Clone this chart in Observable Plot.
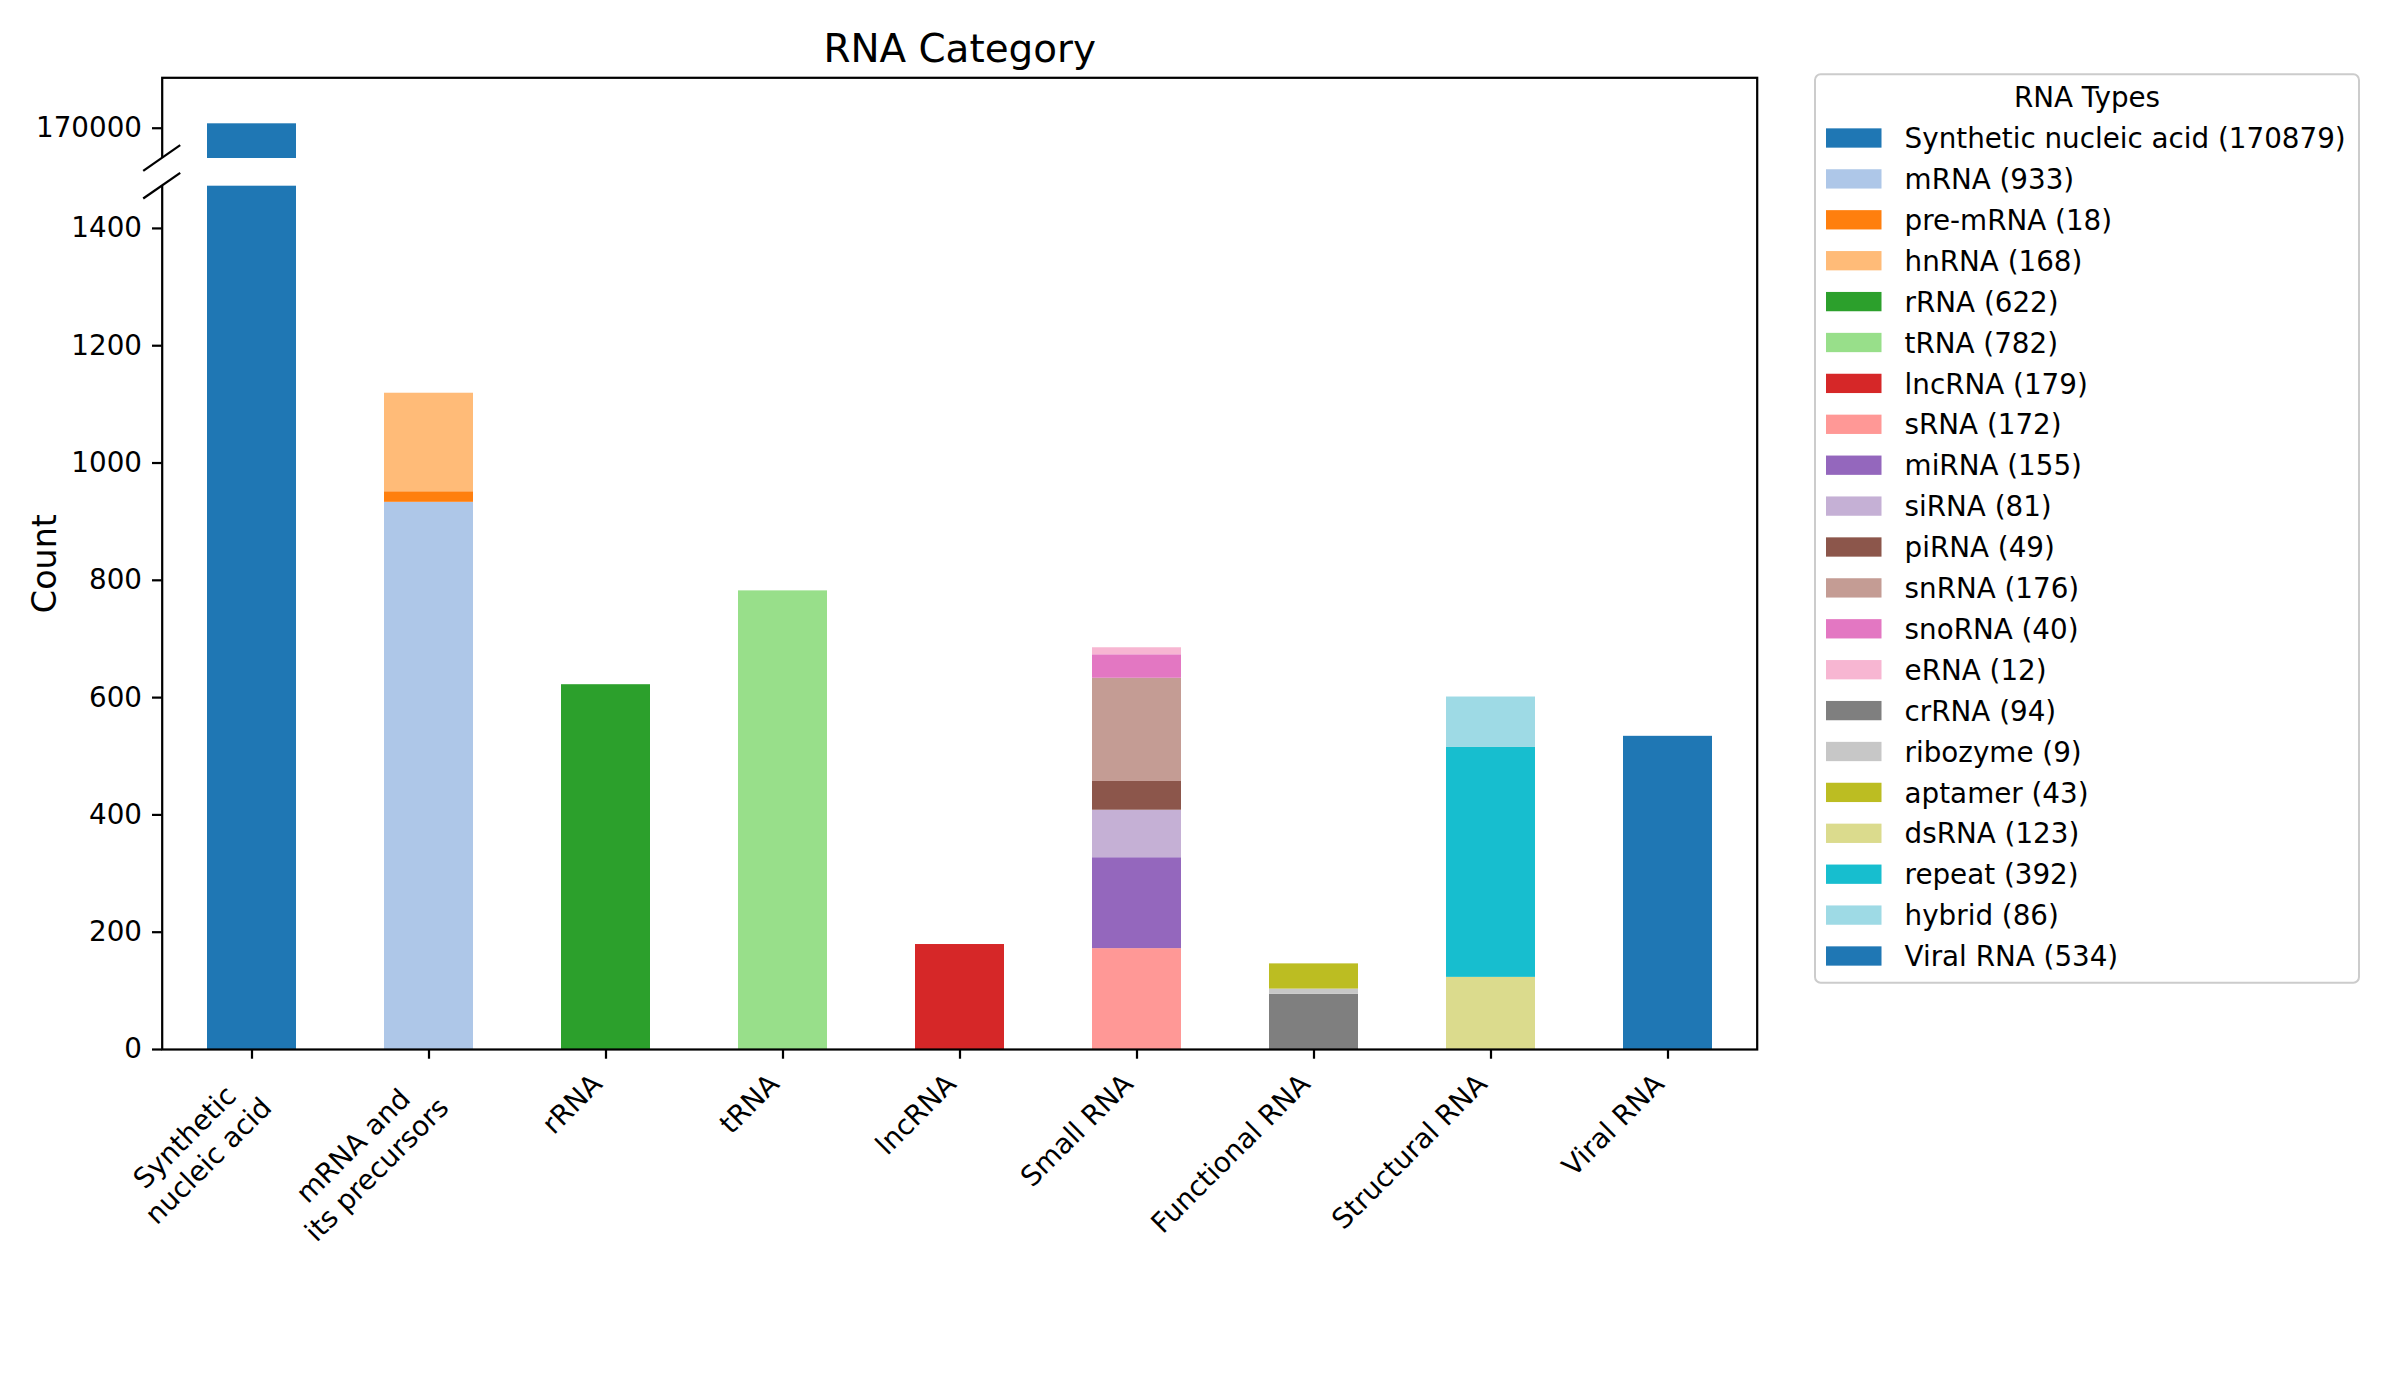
<!DOCTYPE html>
<html><head><meta charset="utf-8">
<script src="https://cdn.jsdelivr.net/npm/d3@7"></script>
<script src="https://cdn.jsdelivr.net/npm/@observablehq/plot@0.6"></script>
<style>
html,body{margin:0;padding:0;background:#fff;}
#chart{position:relative;width:2400px;height:1400px;}
</style></head>
<body><div id="chart"></div>
<script>
// ---- data ----
const categories = ["Synthetic\nnucleic acid", "mRNA and\nits precursors", "rRNA", "tRNA", "lncRNA",
  "Small RNA", "Functional RNA", "Structural RNA", "Viral RNA"];
const typeNames = ["Synthetic nucleic acid", "mRNA", "pre-mRNA", "hnRNA", "rRNA", "tRNA", "lncRNA",
  "sRNA", "miRNA", "siRNA", "piRNA", "snRNA", "snoRNA", "eRNA", "crRNA", "ribozyme", "aptamer",
  "dsRNA", "repeat", "hybrid", "Viral RNA"];
const typeCounts = [170879, 933, 18, 168, 622, 782, 179, 172, 155, 81, 49, 176, 40, 12, 94, 9, 43, 123, 392, 86, 534];
const typeCategory = [0, 1, 1, 1, 2, 3, 4, 5, 5, 5, 5, 5, 5, 5, 6, 6, 6, 7, 7, 7, 8];
const typeColors = ["#1f77b4", "#aec7e8", "#ff7f0e", "#ffbb78", "#2ca02c", "#98df8a", "#d62728",
  "#ff9896", "#9467bd", "#c5b0d5", "#8c564b", "#c49c94", "#e377c2", "#f7b6d2", "#7f7f7f",
  "#c7c7c7", "#bcbd22", "#dbdb8d", "#17becf", "#9edae5", "#1f77b4"];
const yLowerDomain = [0, 1472];
const yUpperDomain = [164000, 180000];
const yTicks = [0, 200, 400, 600, 800, 1000, 1200, 1400, 170000];

const rows = typeNames.map((t, i) => ({type: t, category: categories[typeCategory[i]], value: typeCounts[i]}));

// ---- layout ----
const W = 2400, H = 1400;
const mL = 161.7, mR = W - 1756.7, mT = 77.3, mB = H - 1049;
const lowerTop = 185.7, upperBottom = 158;
const fs = 10 * 200 / 72;       // 10pt @200dpi
const fsTitle = 14 * 200 / 72;
const fsLabel = 12 * 200 / 72;
const lw = 0.8 * 200 / 72;
const tickLen = 3.5 * 200 / 72;
const frameW = W - mL - mR;

// measure text for rotated x labels (matplotlib-like alignment)
const ctx = document.createElement("canvas").getContext("2d");
ctx.font = `${fs}px "DejaVu Sans"`;
const labelMarks = categories.map((c) => {
  const lines = c.split("\n");
  const w = Math.max(...lines.map((l) => ctx.measureText(l).width));
  const h = 0.97 * fs;
  const s = Math.SQRT1_2;
  const dx = -s * h - s * w / 2;
  const dy = 2 * tickLen + s * w / 2;
  return Plot.text([c], {x: (d) => d, text: (d) => d, frameAnchor: "bottom", rotate: -45,
    textAnchor: "middle", lineAnchor: "top", lineHeight: 1.2, dx, dy, fontSize: fs, fill: "black"});
});

const plot = Plot.plot({
  width: W, height: H,
  marginLeft: mL, marginRight: mR, marginTop: mT, marginBottom: mB,
  style: {fontFamily: "DejaVu Sans", fontSize: fs + "px", color: "black", background: "white", maxWidth: "none"},
  x: {domain: categories, paddingInner: 0.5, paddingOuter: 0.25},
  y: {type: "linear", domain: [...yLowerDomain, ...yUpperDomain], range: [H - mB, lowerTop, upperBottom, mT]},
  color: {domain: typeNames, range: typeColors},
  marks: [
    Plot.barY(rows, {x: "category", y: "value", fill: "type"}),
    Plot.rect([null], {y1: [yLowerDomain[1]], y2: [yUpperDomain[0]], fill: "white"}),
    Plot.frame({stroke: "black", strokeWidth: lw}),
    Plot.rect([null], {y1: [yLowerDomain[1]], y2: [yUpperDomain[0]], fill: "white", insetLeft: -5, insetRight: frameW - 5}),
    Plot.axisY({ticks: yTicks, tickFormat: d3.format("d"), tickSize: tickLen, tickPadding: 10.5,
      strokeWidth: lw, fontSize: fs, label: null, fill: "black"}),
    Plot.axisX({tickSize: tickLen, tickFormat: () => "", strokeWidth: lw, label: null}),
    ...labelMarks,
    Plot.text(["Count"], {text: (d) => d, frameAnchor: "left", rotate: -90, textAnchor: "middle",
      lineAnchor: "bottom", dx: 55 - mL, fontSize: fsLabel, fill: "black"}),
    Plot.text(["RNA Category"], {text: (d) => d, frameAnchor: "top", lineAnchor: "bottom",
      dy: 61.7 - mT, fontSize: fsTitle, fill: "black"})
  ]
});

const svg = d3.select(plot);
const yS = plot.scale("y");
const colorS = plot.scale("color");

// break marks on the left spine
[yLowerDomain[1], yUpperDomain[0]].forEach((v) => {
  const py = yS.apply(v);
  svg.append("line").attr("x1", mL - 18.5).attr("y1", py + 12.8).attr("x2", mL + 18.5).attr("y2", py - 12.8)
    .attr("stroke", "black").attr("stroke-width", lw);
});

// legend
const lg = svg.append("g").attr("text-anchor", "start");
const lgX = 1815, lgY = 74.3, lgW = 544, lgH = 908.4;
lg.append("rect").attr("x", lgX).attr("y", lgY).attr("width", lgW).attr("height", lgH).attr("rx", 5.6)
  .attr("fill", "white").attr("fill-opacity", 0.8).attr("stroke", "#cccccc").attr("stroke-width", 2);
lg.append("text").attr("x", lgX + lgW / 2).attr("y", 96.7 + 0.3645 * fs).attr("text-anchor", "middle")
  .attr("font-size", fs).attr("fill", "black").text("RNA Types");
typeNames.forEach((t, i) => {
  const cy = 138 + 40.9 * i;
  lg.append("rect").attr("x", 1826).attr("y", cy - 9.65).attr("width", 55.5).attr("height", 19.3)
    .attr("fill", colorS.apply(t));
  lg.append("text").attr("x", 1904.6).attr("y", cy + 0.3645 * fs).attr("font-size", fs).attr("fill", "black")
    .attr("text-anchor", "start").text(`${t} (${typeCounts[i]})`);
});

document.getElementById("chart").appendChild(plot);
</script>
</body></html>
